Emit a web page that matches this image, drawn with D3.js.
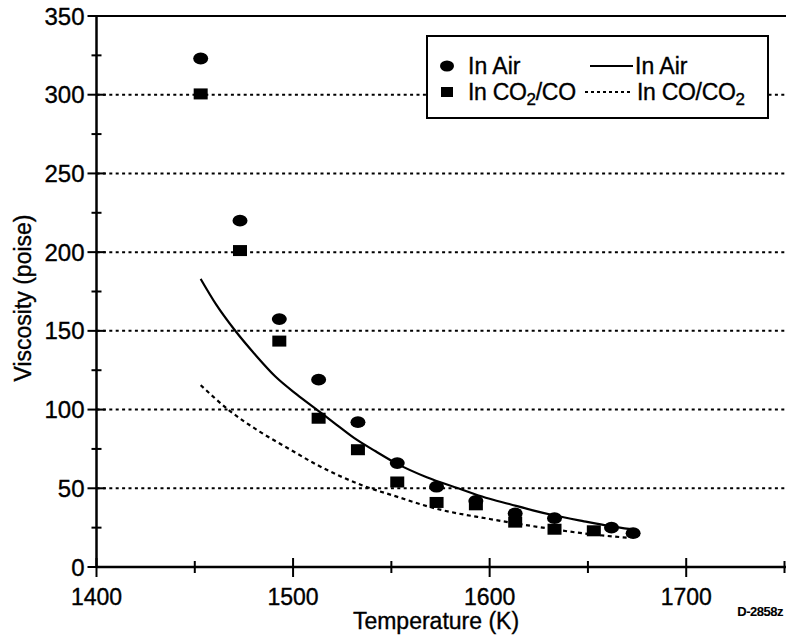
<!DOCTYPE html>
<html>
<head>
<meta charset="utf-8">
<script src="https://cdn.jsdelivr.net/npm/d3@7"></script>
<style>
  html, body { margin: 0; padding: 0; background: #fff; }
  svg { display: block; }
  text { font-family: "Liberation Sans", Arial, Helvetica, sans-serif; fill: #000; stroke: #000; stroke-width: 0.35px; }
</style>
</head>
<body>
<svg id="chart" width="786" height="635"></svg>
<script>
// Measured viscosity, in air (circles)
const airTemp = [1453, 1473, 1493, 1513, 1533, 1553, 1573, 1593, 1613, 1633, 1662, 1673];
const airVisc = [323, 220, 157.5, 119, 92, 66, 51, 42, 34, 31, 25, 21.5];

// Measured viscosity, in CO2/CO (squares)
const co2Temp = [1453, 1473, 1493, 1513, 1533, 1553, 1573, 1593, 1613, 1633, 1653];
const co2Visc = [300.5, 201, 143.5, 94.5, 74.5, 54, 41, 39.5, 28.5, 24, 23];

// Fitted curve, in air (solid)
const airFitTemp = [1453, 1461, 1470, 1481, 1491, 1502, 1512, 1522, 1531, 1542, 1553, 1568, 1584, 1598, 1610, 1622, 1632, 1648, 1661, 1672];
const airFitVisc = [183, 166.5, 151, 134.5, 121, 109.5, 100, 90.5, 82, 73.5, 65.5, 57, 50, 44, 40, 36, 33, 29, 26, 24];

// Fitted curve, in CO/CO2 (dashed)
const coFitTemp = [1453, 1467, 1483, 1498, 1512, 1536, 1552, 1573, 1600, 1627, 1650, 1671];
const coFitVisc = [115.5, 100, 86, 75, 65, 51.5, 45, 37, 30.5, 25, 21, 18.5];

const xTicks = [1400, 1500, 1600, 1700];
const xMinorTicks = [1450, 1550, 1650, 1750];
const yTicks = [0, 50, 100, 150, 200, 250, 300, 350];
const yMinorTicks = [25, 75, 125, 175, 225, 275, 325];
const gridValues = [50, 100, 150, 200, 250, 300];

const svg = d3.select("#chart");

const x = d3.scaleLinear().domain([1400, 1750]).range([96.5, 784.5]);
const y = d3.scaleLinear().domain([0, 350]).range([567, 16]);

// Dotted horizontal gridlines
svg.append("g").selectAll("line").data(gridValues).join("line")
  .attr("x1", x(1400)).attr("x2", 786)
  .attr("y1", d => y(d)).attr("y2", d => y(d))
  .attr("stroke", "#000").attr("stroke-width", 2)
  .attr("stroke-dasharray", "3,3.4");

// Top frame line
svg.append("line")
  .attr("x1", x(1400)).attr("x2", 786)
  .attr("y1", y(350)).attr("y2", y(350))
  .attr("stroke", "#000").attr("stroke-width", 2);

// X axis
const xAxis = svg.append("g").attr("transform", `translate(0,${y(0)})`);
xAxis.append("line").attr("x1", x(1400)).attr("x2", 786)
  .attr("stroke", "#000").attr("stroke-width", 2.5);
xAxis.selectAll("line.major").data(xTicks).join("line")
  .attr("class", "major")
  .attr("x1", d => x(d)).attr("x2", d => x(d))
  .attr("y1", -9).attr("y2", 10)
  .attr("stroke", "#000").attr("stroke-width", 2);
xAxis.selectAll("line.minor").data(xMinorTicks).join("line")
  .attr("class", "minor")
  .attr("x1", d => x(d)).attr("x2", d => x(d))
  .attr("y1", -6).attr("y2", 6)
  .attr("stroke", "#000").attr("stroke-width", 2);
xAxis.selectAll("text").data(xTicks).join("text")
  .attr("x", d => x(d)).attr("y", 38)
  .attr("text-anchor", "middle")
  .attr("font-size", 23)
  .text(d => d);

// Y axis
const yAxis = svg.append("g").attr("transform", `translate(${x(1400)},0)`);
yAxis.append("line").attr("y1", y(350)).attr("y2", y(0))
  .attr("stroke", "#000").attr("stroke-width", 2.5);
yAxis.selectAll("line.major").data(yTicks).join("line")
  .attr("class", "major")
  .attr("x1", -9).attr("x2", 9)
  .attr("y1", d => y(d)).attr("y2", d => y(d))
  .attr("stroke", "#000").attr("stroke-width", 2);
yAxis.selectAll("line.minor").data(yMinorTicks).join("line")
  .attr("class", "minor")
  .attr("x1", -5).attr("x2", 5)
  .attr("y1", d => y(d)).attr("y2", d => y(d))
  .attr("stroke", "#000").attr("stroke-width", 2);
yAxis.selectAll("text").data(yTicks).join("text")
  .attr("x", -12).attr("y", d => y(d) + 8.5)
  .attr("text-anchor", "end")
  .attr("font-size", 24)
  .text(d => d);

// Axis titles
svg.append("text")
  .attr("x", 436).attr("y", 629)
  .attr("text-anchor", "middle")
  .attr("font-size", 23)
  .text("Temperature (K)");
svg.append("text")
  .attr("transform", "translate(31,298) rotate(-90)")
  .attr("text-anchor", "middle")
  .attr("font-size", 23)
  .text("Viscosity (poise)");

// Drawing number
svg.append("text")
  .attr("x", 783).attr("y", 616)
  .attr("text-anchor", "end")
  .attr("font-size", 13)
  .attr("font-weight", "bold")
  .attr("letter-spacing", -0.5)
  .style("stroke-width", "0.1px")
  .text("D-2858z");

// Fitted curves
const line = d3.line().x(d => x(d[0])).y(d => y(d[1])).curve(d3.curveMonotoneX);
svg.append("path")
  .datum(d3.zip(airFitTemp, airFitVisc))
  .attr("d", line)
  .attr("fill", "none").attr("stroke", "#000").attr("stroke-width", 2.2);
svg.append("path")
  .datum(d3.zip(coFitTemp, coFitVisc))
  .attr("d", line)
  .attr("fill", "none").attr("stroke", "#000").attr("stroke-width", 2.2)
  .attr("stroke-dasharray", "4,3.5");

// Measured points
svg.append("g").selectAll("rect").data(d3.zip(co2Temp, co2Visc)).join("rect")
  .attr("x", d => x(d[0]) - 7).attr("y", d => y(d[1]) - 5.5)
  .attr("width", 14).attr("height", 11)
  .attr("fill", "#000");
svg.append("g").selectAll("ellipse").data(d3.zip(airTemp, airVisc)).join("ellipse")
  .attr("cx", d => x(d[0])).attr("cy", d => y(d[1]))
  .attr("rx", 7.5).attr("ry", 5.9)
  .attr("fill", "#000");

// Legend
const lg = svg.append("g");
lg.append("rect")
  .attr("x", 427).attr("y", 36).attr("width", 341).attr("height", 82)
  .attr("fill", "#fff").attr("stroke", "#000").attr("stroke-width", 2);

const row1 = 66, row2 = 92;
lg.append("ellipse").attr("cx", 447).attr("cy", row1).attr("rx", 7).attr("ry", 5.6).attr("fill", "#000");
lg.append("text").attr("x", 468).attr("y", row1 + 8).attr("font-size", 23).text("In Air");
lg.append("line").attr("x1", 590).attr("x2", 633).attr("y1", row1).attr("y2", row1)
  .attr("stroke", "#000").attr("stroke-width", 2);
lg.append("text").attr("x", 635).attr("y", row1 + 8).attr("font-size", 23).text("In Air");

lg.append("rect").attr("x", 441).attr("y", row2 - 5).attr("width", 12).attr("height", 10).attr("fill", "#000");
const t1 = lg.append("text").attr("x", 468).attr("y", row2 + 8).attr("font-size", 23).attr("letter-spacing", -0.3);
t1.append("tspan").text("In CO");
t1.append("tspan").attr("font-size", 17).attr("dy", 5).text("2");
t1.append("tspan").attr("dy", -5).text("/CO");
lg.append("line").attr("x1", 585).attr("x2", 632).attr("y1", row2).attr("y2", row2)
  .attr("stroke", "#000").attr("stroke-width", 2).attr("stroke-dasharray", "3,3");
const t2 = lg.append("text").attr("x", 637).attr("y", row2 + 8).attr("font-size", 23).attr("letter-spacing", -0.3);
t2.append("tspan").text("In CO/CO");
t2.append("tspan").attr("font-size", 17).attr("dy", 5).text("2");
</script>
</body>
</html>
